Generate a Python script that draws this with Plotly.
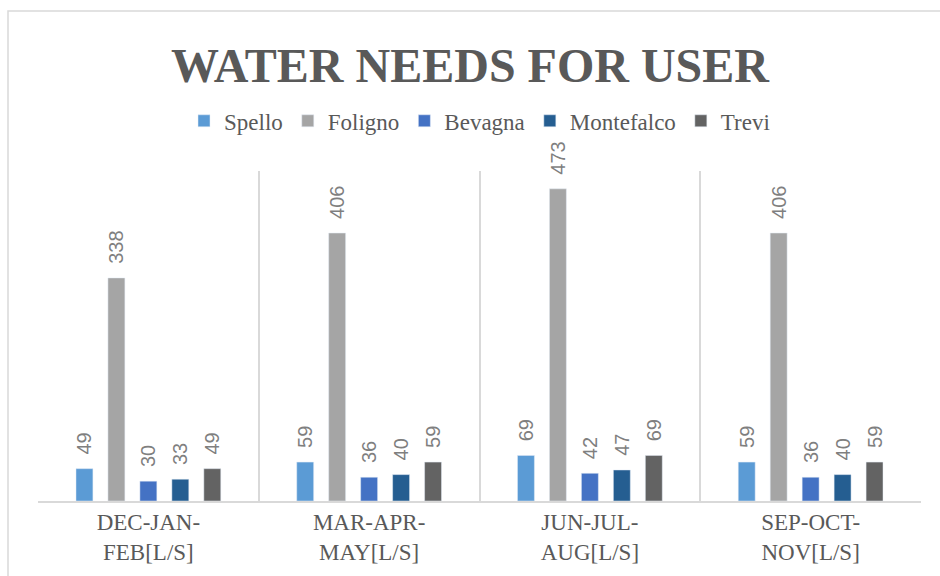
import plotly.graph_objects as go

categories = ["DEC-JAN-<br>FEB[L/S]", "MAR-APR-<br>MAY[L/S]", "JUN-JUL-<br>AUG[L/S]", "SEP-OCT-<br>NOV[L/S]"]
series_names = ["Spello", "Foligno", "Bevagna", "Montefalco", "Trevi"]
spello = [49, 59, 69, 59]
foligno = [338, 406, 473, 406]
bevagna = [30, 36, 42, 36]
montefalco = [33, 40, 47, 40]
trevi = [49, 59, 69, 59]
colors = ["#5B9BD5", "#A5A5A5", "#4472C4", "#255E91", "#636363"]

values = [spello, foligno, bevagna, montefalco, trevi]
xpos = list(range(len(categories)))

fig = go.Figure()
for name, vals, col in zip(series_names, values, colors):
    fig.add_trace(go.Bar(
        x=xpos, y=vals, name=name, marker_color=col,
        text=["\u00a0\u00a0" + str(v) for v in vals], textposition="outside", textangle=-90,
        constraintext="none",
        textfont=dict(family="Liberation Sans, Arial, sans-serif", size=20, color="#7F7F7F"),
        cliponaxis=False,
    ))

fig.update_layout(
    width=940, height=576,
    margin=dict(l=38, r=19, t=171, b=75, autoexpand=False),
    paper_bgcolor="white", plot_bgcolor="white",
    barmode="group", bargap=0.276, bargroupgap=0.47,
    title=dict(text="<b>WATER NEEDS FOR USER</b>", x=0.5, xanchor="center",
               y=1 - 65 / 576, yanchor="middle",
               font=dict(family="Liberation Serif, Times New Roman, serif", size=48, color="#595959")),
    legend=dict(orientation="h", x=0.5, xanchor="center", y=1.152, yanchor="middle",
                font=dict(family="Liberation Serif, Times New Roman, serif", size=23, color="#595959"),
                itemwidth=30, tracegroupgap=0),
    xaxis=dict(range=[-0.5, 3.5], tickmode="array", tickvals=xpos, ticktext=categories,
               showgrid=False, zeroline=False, showline=True, linecolor="#D9D9D9", linewidth=1.5,
               ticks="", ticklabelstandoff=0, automargin=False,
               tickfont=dict(family="Liberation Serif, Times New Roman, serif", size=23, color="#595959"),
               minor=dict(tick0=-0.5, dtick=1, showgrid=True, gridcolor="#D9D9D9", gridwidth=1.5, ticks="")),
    yaxis=dict(range=[0, 500], showticklabels=False, showgrid=False, zeroline=False, showline=False,
               automargin=False),
    showlegend=True,
)

fig.add_shape(type="rect", xref="paper", yref="paper",
              x0=(8 - 38) / 883, x1=1.2, y0=-0.5, y1=(501 - 11) / 330,
              line=dict(color="#D9D9D9", width=1.5), fillcolor="rgba(0,0,0,0)", layer="below")

fig.write_html("out.html", config={"displayModeBar": False},
               post_script="document.body.style.margin='0';")
